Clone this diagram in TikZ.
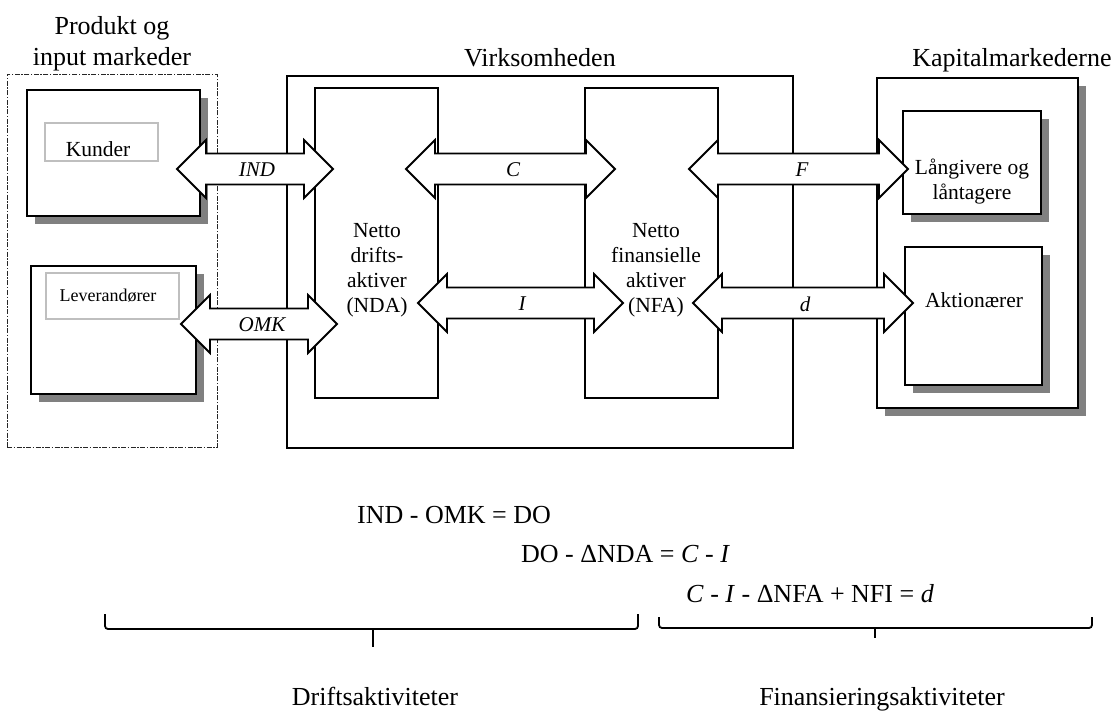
\documentclass[tikz,border=0pt]{standalone}
\usepackage{fontspec}
\setmainfont{Liberation Serif}
\usetikzlibrary{calc,shadows}
\newcommand{\blockarrow}[2]{%
  \draw[barrow] let \p1=(#1), \p2=(#2) in
   (\x1,\y1) -- (\x1+29pt,\y1+29pt) -- (\x1+29pt,\y1+15.5pt) -- (\x2-29pt,\y1+15.5pt)
   -- (\x2-29pt,\y1+29pt) -- (\x2,\y1) -- (\x2-29pt,\y1-29pt) -- (\x2-29pt,\y1-15.5pt)
   -- (\x1+29pt,\y1-15.5pt) -- (\x1+29pt,\y1-29pt) -- cycle;}
\begin{document}
\begin{tikzpicture}[x=1pt,y=-1pt,
  box/.style={draw=black, line width=2pt, fill=white, inner sep=0pt, outer sep=0pt, anchor=north west},
  sbox/.style={box, line width=2.4pt, drop shadow={shadow xshift=8pt, shadow yshift=-8pt, fill=black!50, opacity=1}},
  graybox/.style={draw=black!25, line width=1.6pt, fill=white, inner sep=0pt, outer sep=0pt, anchor=north west},
  market/.style={draw=black!85, line width=1pt, inner sep=0pt, outer sep=0pt, anchor=north west,
     dash pattern=on 5pt off 1.5pt on 1.5pt off 1.5pt},
  head/.style={font=\fontsize{26}{31}\selectfont, anchor=base, inner sep=0pt},
  txt/.style={font=\fontsize{21.5}{25}\selectfont, align=center, inner sep=0pt},
  alab/.style={font=\fontsize{21}{24}\selectfont\itshape, inner sep=0pt},
  eq/.style={font=\fontsize{26}{31}\selectfont, anchor=base west, inner sep=0pt},
  barrow/.style={draw=black, line width=1.8pt, fill=white, line join=miter},
  brk/.style={draw=black, line width=1.8pt, rounded corners=3pt}
]
\useasboundingbox (0,0) rectangle (1117,711);

% frames
\node[market, minimum width=210, minimum height=372] (mkt) at (7,75) {};
\node[box, minimum width=506, minimum height=372] (virk) at (287,76) {};
\node[box, minimum width=123, minimum height=310] (nda) at (315,88) {};
\node[box, minimum width=133, minimum height=310] (nfa) at (585,88) {};
\node[sbox, minimum width=201, minimum height=330] (kap) at (877,78) {};
\node[sbox, minimum width=138, minimum height=103] (lang) at (903,111) {};
\node[sbox, minimum width=137, minimum height=138] (akt) at (905,247) {};
\node[sbox, minimum width=173, minimum height=126] (kund) at (27,90) {};
\node[sbox, minimum width=165, minimum height=128] (lev) at (31,266) {};
\node[graybox, minimum width=113, minimum height=38] (kundlab) at (45,123) {};
\node[graybox, minimum width=133, minimum height=46] (levlab) at (46,273) {};

% headings
\node[head] (prodhead) at (112,35) {Produkt og};
\node[head] (inputhead) at (112,66) {input markeder};
\node[head] (virkhead) at (540,67) {Virksomheden};
\node[head] (kaphead) at (1012,67) {Kapitalmarkederne};

% box texts
\node[txt, anchor=base] (kundtxt) at (98,157) {Kunder};
\node[txt, anchor=base, font=\fontsize{18}{22}\selectfont] (levtxt) at (108,302) {Leverandører};
\node[txt] (ndatxt) at (377,270) {Netto\\drifts-\\aktiver\\(NDA)};
\node[txt] (nfatxt) at (656,270) {Netto\\finansielle\\aktiver\\(NFA)};
\node[txt] (langtxt) at (972,182) {Långivere og\\låntagere};
\node[txt, anchor=base] (akttxt) at (974,308) {Aktionærer};

% arrow end points
\coordinate (indL) at (177,169); \coordinate (indR) at (333,169);
\coordinate (omkL) at (181,324); \coordinate (omkR) at (337,324);
\coordinate (cL) at (406,169);   \coordinate (cR) at (615,169);
\coordinate (iL) at (418,303);   \coordinate (iR) at (623,303);
\coordinate (fL) at (689,169);   \coordinate (fR) at (908,169);
\coordinate (dL) at (693,303);   \coordinate (dR) at (913,303);

\blockarrow{indL}{indR}
\blockarrow{omkL}{omkR}
\blockarrow{cL}{cR}
\blockarrow{iL}{iR}
\blockarrow{fL}{fR}
\blockarrow{dL}{dR}

\node[alab] (indlab) at (257,170) {IND};
\node[alab] (omklab) at (262,325) {OMK};
\node[alab] (clab) at (513,170) {C};
\node[alab] (ilab) at (522,304) {I};
\node[alab] (flab) at (802,170) {F};
\node[alab] (dlab) at (805,304) {d};

% equations
\node[eq] (eq1) at (357,523) {IND - OMK = DO};
\node[eq] (eq2) at (521,562) {DO - ΔNDA = \textit{C} - \textit{I}};
\node[eq] (eq3) at (686,602) {\textit{C} - \textit{I} - ΔNFA + NFI = \textit{d}};

% braces
\draw[brk] (105,614) -- (105,629) -- (638,629) -- (638,614);
\draw[brk] (373,629) -- (373,647);
\draw[brk] (659,617) -- (659,628) -- (1092,628) -- (1092,617);
\draw[brk] (875,628) -- (875,638);

\node[head] (drift) at (375,705) {Driftsaktiviteter};
\node[head] (finans) at (882,705) {Finansieringsaktiviteter};
\end{tikzpicture}
\end{document}
